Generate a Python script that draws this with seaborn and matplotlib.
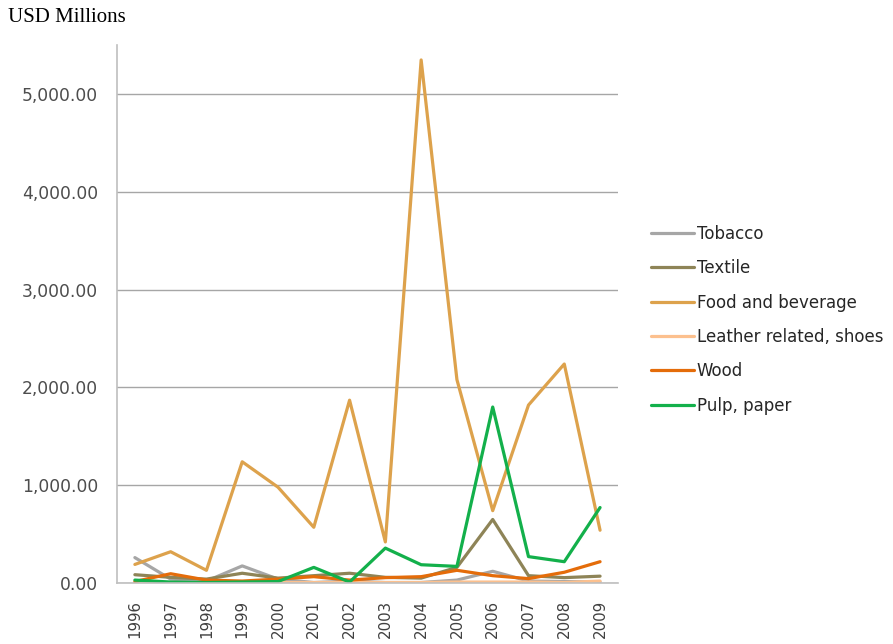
import matplotlib
matplotlib.use("Agg")
import matplotlib.pyplot as plt
import seaborn as sns
import pandas as pd
from matplotlib.ticker import FuncFormatter, MultipleLocator

years = list(range(1996, 2010))
tobacco = [260, 40, 20, 175, 40, 5, 20, 5, 5, 30, 120, 20, 15, 10]
textile = [85, 58, 40, 100, 50, 75, 100, 58, 50, 160, 650, 75, 55, 70]
food_beverage = [190, 320, 130, 1240, 980, 570, 1870, 420, 5350, 2080, 740, 1820, 2240, 540]
leather_shoes = [5, 5, 5, 8, 5, 5, 5, 5, 5, 10, 10, 10, 5, 20]
wood = [15, 95, 30, 20, 40, 65, 30, 55, 65, 130, 75, 45, 110, 218]
pulp_paper = [30, 10, 5, 10, 15, 160, 10, 357, 187, 170, 1800, 270, 218, 772]

series_names = ["Tobacco", "Textile", "Food and beverage",
                "Leather related, shoes", "Wood", "Pulp, paper"]
series_values = [tobacco, textile, food_beverage, leather_shoes, wood, pulp_paper]
colors = ["#A6A6A6", "#8E8457", "#DDA24C", "#FCC08E", "#E46C0A", "#13B04B"]

df = pd.DataFrame([
    {"Year": y, "Value": v, "Sector": name}
    for name, vals in zip(series_names, series_values)
    for y, v in zip(years, vals)
])

sns.set_style("white")
plt.rcParams["font.family"] = ["DejaVu Sans"]

fig = plt.figure(figsize=(8.93, 6.44), dpi=100)
ax = fig.add_axes([0.131, 0.0947, 0.561, 0.835])

sns.lineplot(data=df, x="Year", y="Value", hue="Sector",
             hue_order=series_names, palette=colors, linewidth=2.3,
             ax=ax, legend=True)

ax.set_xlim(1995.5, 2009.5)
ax.set_ylim(0, 5500)
ax.yaxis.set_major_locator(MultipleLocator(1000))
ax.yaxis.set_major_formatter(FuncFormatter(lambda v, p: f"{v:,.2f}"))
ax.set_xticks(years)
ax.set_xticklabels([str(y) for y in years], rotation=90)
ax.set_xticks([y + 0.5 for y in years[:-1]] + [1995.5, 2009.5], minor=True)
ax.tick_params(axis="x", which="major", length=0, pad=12, labelsize=10.8,
               labelcolor="#404040")
ax.tick_params(axis="x", which="minor", length=5, width=1, color="#BFBFBF",
               direction="out")
ax.tick_params(axis="y", which="major", length=5, width=1, color="#BFBFBF",
               labelsize=12.3, labelcolor="#4D4D4D", pad=8.5)
ax.grid(axis="y", color="#A6A6A6", linewidth=1)
ax.set_axisbelow(True)
for side in ["top", "right"]:
    ax.spines[side].set_visible(False)
for side in ["left", "bottom"]:
    ax.spines[side].set_color("#BFBFBF")
    ax.spines[side].set_linewidth(1.2)
ax.set_xlabel("")
ax.set_ylabel("")

handles, labels = ax.get_legend_handles_labels()
ax.legend(handles, labels, loc="upper left", bbox_to_anchor=(0.712, 0.674),
          bbox_transform=fig.transFigure, frameon=False, fontsize=12,
          handlelength=2.6, handletextpad=0.15, labelspacing=0.98,
          labelcolor="#262626")

fig.text(0.009, 0.973, "USD Millions", family="Liberation Serif", fontsize=15,
         color="black", va="center", ha="left")

fig.savefig("out.png", dpi=100)
